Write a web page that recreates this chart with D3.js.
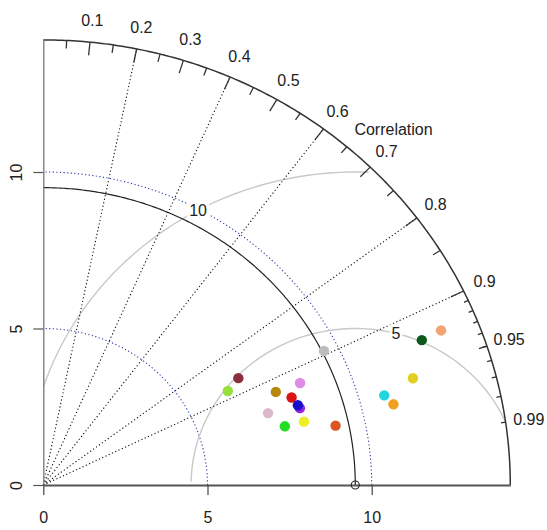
<!DOCTYPE html>
<html>
<head>
<meta charset="utf-8">
<script src="https://cdn.jsdelivr.net/npm/d3@7"></script>
<style>
  html, body { margin: 0; padding: 0; background: #fff; }
  svg { display: block; font-family: "Liberation Sans", Arial, Helvetica, sans-serif; }
</style>
</head>
<body>
<svg id="chart" width="547" height="530"></svg>
<script>
// Taylor diagram: model standard deviations and correlations against a reference field
const refSd = 9.5;
const maxSd = 14.22;
const modelSd  = [6.85, 6.37, 7.68, 8.47, 8.06, 8.19, 8.16, 7.22, 7.59, 8.19, 9.10, 9.56, 10.77, 10.97, 11.76, 12.42, 13.08];
const modelCor = [0.867, 0.882, 0.922, 0.923, 0.938, 0.954, 0.950, 0.948, 0.969, 0.969, 0.978, 0.894, 0.964, 0.972, 0.957, 0.928, 0.926];
const modelColors = ["#8b2f3c", "#96e03c", "#b8860b", "#dd8ce8", "#dd1414", "#9a20e6", "#1a10cc", "#dcb8cc",
                     "#22dd22", "#eeee22", "#dd5520", "#bdbdbd", "#22d6e0", "#f0a020", "#e2d020", "#0b5a1a", "#f2a472"];
const sdTicks = [0, 5, 10];
const sdArcs = [5, 10];
const rmsLevels = [5, 10];
const rmsLabelIdx = [45, 70];
const corGridLines = [0.2, 0.4, 0.6, 0.8, 0.9];
const corLabels = [0.1, 0.2, 0.3, 0.4, 0.5, 0.6, 0.7, 0.8, 0.9, 0.95, 0.99];
const bigTicks = d3.range(1, 10).map(i => i / 10);
const medTicks = d3.range(0, 10).map(i => 0.05 + i / 10);
const smallTicks = d3.range(1, 10).map(i => 0.9 + i / 100);

const svg = d3.select("#chart");
const x0 = 43.3, y0 = 485;
const xS = d3.scaleLinear().domain([0, maxSd]).range([x0, x0 + maxSd * 32.84]);
const yS = d3.scaleLinear().domain([0, maxSd]).range([y0, y0 - maxSd * 31.3]);
const line = d3.line().x(d => xS(d[0])).y(d => yS(d[1]));
const polar = (r, th) => [r * Math.cos(th), r * Math.sin(th)];
const arcPts = (cx, r, a0, a1, n = 200) =>
  d3.range(n + 1).map(i => { const t = a0 + (a1 - a0) * i / n; return [cx + r * Math.cos(t), r * Math.sin(t)]; });

// standard deviation arcs (blue dotted)
svg.append("g").selectAll("path").data(sdArcs).join("path")
  .attr("d", r => line(arcPts(0, r, 0, Math.PI / 2)))
  .attr("fill", "none").attr("stroke", "#2a3aa8").attr("stroke-width", 1.1)
  .attr("stroke-dasharray", "1.2,2.4");

// centred RMS difference arcs around the reference point (grey)
const rmsG = svg.append("g");
rmsLevels.forEach(g => {
  const th = d3.range(0, Math.PI + 1e-9, 0.03);
  const xc = th.map(t => Math.cos(t) * g + refSd);
  const yc = th.map(t => Math.sin(t) * g);
  const neg = xc.findIndex(v => v < 0);
  const end = neg >= 0 ? neg - 1 : th.length - 1;
  let start = 0;
  xc.forEach((v, i) => { if (v * v + yc[i] * yc[i] > maxSd * maxSd) start = i + 1; });
  const pts = d3.range(start, end + 1).map(i => [xc[i], yc[i]]);
  rmsG.append("path").attr("d", line(pts)).attr("fill", "none")
    .attr("stroke", "#c9c9c9").attr("stroke-width", 1.4);
});

// correlation grid rays
svg.append("g").selectAll("line").data(corGridLines).join("line")
  .attr("x1", xS(0)).attr("y1", yS(0))
  .attr("x2", c => xS(maxSd * c)).attr("y2", c => yS(maxSd * Math.sqrt(1 - c * c)))
  .attr("stroke", "#111").attr("stroke-width", 1.1).attr("stroke-dasharray", "1.2,2.4");

// reference standard deviation arc
svg.append("path").attr("d", line(arcPts(0, refSd, 0, Math.PI / 2)))
  .attr("fill", "none").attr("stroke", "#222").attr("stroke-width", 1.2);

// RMS labels on white boxes
rmsLevels.forEach((g, k) => {
  const t = (rmsLabelIdx[k] - 1) * 0.03;
  const px = xS(refSd + g * Math.cos(t)), py = yS(g * Math.sin(t));
  const txt = String(g);
  const w = txt.length * 9 + 4;
  svg.append("rect").attr("x", px - w / 2).attr("y", py - 9).attr("width", w).attr("height", 18).attr("fill", "#fff");
  svg.append("text").attr("x", px).attr("y", py).attr("dy", "0.36em")
    .attr("text-anchor", "middle").attr("font-size", 16).attr("fill", "#222").text(txt);
});

// outer correlation arc with ticks
svg.append("path").attr("d", line(arcPts(0, maxSd, 0, Math.PI / 2)))
  .attr("fill", "none").attr("stroke", "#333").attr("stroke-width", 1.5);
const tickSet = (vals, f) => svg.append("g").selectAll("line").data(vals).join("line")
  .attr("x1", c => xS(maxSd * c)).attr("y1", c => yS(maxSd * Math.sqrt(1 - c * c)))
  .attr("x2", c => xS(f * maxSd * c)).attr("y2", c => yS(f * maxSd * Math.sqrt(1 - c * c)))
  .attr("stroke", "#333").attr("stroke-width", 1.3);
tickSet(bigTicks, 0.97);
tickSet(medTicks, 0.982);
tickSet(smallTicks, 0.99);

svg.append("g").selectAll("text").data(corLabels).join("text")
  .attr("x", c => xS(1.05 * maxSd * c)).attr("y", c => yS(1.05 * maxSd * Math.sqrt(1 - c * c)))
  .attr("dy", "0.36em").attr("text-anchor", "middle").attr("font-size", 16).attr("fill", "#222")
  .text(c => String(c));
svg.append("text").attr("x", xS(0.75 * maxSd)).attr("y", yS(0.8 * maxSd)).attr("dy", "0.36em")
  .attr("text-anchor", "middle").attr("font-size", 16).attr("fill", "#222").text("Correlation");

// axes
const xAxis = svg.append("g").attr("transform", `translate(0,${y0})`)
  .call(d3.axisBottom(xS).tickValues(sdTicks).tickSize(10).tickSizeOuter(0).tickFormat(d3.format("d")));
xAxis.select(".domain").attr("stroke", "#555").attr("stroke-width", 2.2);
xAxis.selectAll(".tick line").attr("stroke", "#444").attr("stroke-width", 1.2);
xAxis.selectAll(".tick text").attr("y", 32).attr("dy", "0").attr("font-size", 16)
  .attr("fill", "#222").attr("font-family", null).attr("dominant-baseline", "central");

const yAxis = svg.append("g").attr("transform", `translate(${x0},0)`)
  .call(d3.axisLeft(yS).tickValues(sdTicks).tickSize(10).tickSizeOuter(0).tickFormat(d3.format("d")));
yAxis.select(".domain").attr("stroke", "#777").attr("stroke-width", 1.3);
yAxis.selectAll(".tick line").attr("stroke", "#555").attr("stroke-width", 1.2);
yAxis.selectAll(".tick text").attr("x", 0).attr("y", -27).attr("dy", "0")
  .attr("transform", "rotate(-90)").attr("text-anchor", "middle").attr("dominant-baseline", "central")
  .attr("font-size", 16).attr("fill", "#222").attr("font-family", null);

// reference point
svg.append("circle").attr("cx", xS(refSd)).attr("cy", yS(0)).attr("r", 4)
  .attr("fill", "none").attr("stroke", "#222").attr("stroke-width", 1.1);

// model points
svg.append("g").selectAll("circle").data(modelSd).join("circle")
  .attr("cx", (s, i) => xS(s * modelCor[i]))
  .attr("cy", (s, i) => yS(s * Math.sqrt(1 - modelCor[i] * modelCor[i])))
  .attr("r", 5.2)
  .attr("fill", (s, i) => modelColors[i]);
</script>
</body>
</html>
